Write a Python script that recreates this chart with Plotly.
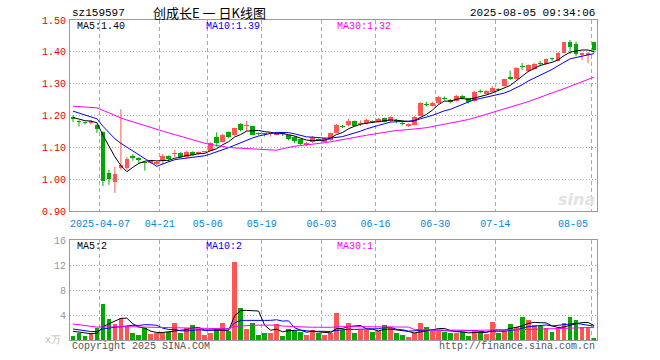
import plotly.graph_objects as go

# ---------------- data ----------------
dates = [
    "2025-03-28", "2025-03-31", "2025-04-01", "2025-04-02", "2025-04-03",
    "2025-04-07", "2025-04-08", "2025-04-09", "2025-04-10", "2025-04-11",
    "2025-04-14", "2025-04-15", "2025-04-16", "2025-04-17", "2025-04-18",
    "2025-04-21", "2025-04-22", "2025-04-23", "2025-04-24", "2025-04-25",
    "2025-04-28", "2025-04-29", "2025-04-30",
    "2025-05-06", "2025-05-07", "2025-05-08", "2025-05-09",
    "2025-05-12", "2025-05-13", "2025-05-14", "2025-05-15", "2025-05-16",
    "2025-05-19", "2025-05-20", "2025-05-21", "2025-05-22", "2025-05-23",
    "2025-05-26", "2025-05-27", "2025-05-28", "2025-05-29", "2025-05-30",
    "2025-06-03", "2025-06-04", "2025-06-05", "2025-06-06",
    "2025-06-09", "2025-06-10", "2025-06-11", "2025-06-12", "2025-06-13",
    "2025-06-16", "2025-06-17", "2025-06-18", "2025-06-19", "2025-06-20",
    "2025-06-23", "2025-06-24", "2025-06-25", "2025-06-26", "2025-06-27",
    "2025-06-30", "2025-07-01", "2025-07-02", "2025-07-03", "2025-07-04",
    "2025-07-07", "2025-07-08", "2025-07-09", "2025-07-10", "2025-07-11",
    "2025-07-14", "2025-07-15", "2025-07-16", "2025-07-17", "2025-07-18",
    "2025-07-21", "2025-07-22", "2025-07-23", "2025-07-24", "2025-07-25",
    "2025-07-28", "2025-07-29", "2025-07-30", "2025-07-31", "2025-08-01",
    "2025-08-04", "2025-08-05",
]

open_ = [
    1.196, 1.183, 1.177, 1.176, 1.170, 1.147, 1.020, 0.992, 1.034, 1.034,
    1.073, 1.066, 1.054, 1.050, 1.049, 1.060, 1.073, 1.078, 1.081, 1.071,
    1.085, 1.078, 1.085, 1.090, 1.131, 1.118, 1.147, 1.138, 1.173, 1.167,
    1.166, 1.145, 1.143, 1.142, 1.140, 1.144, 1.138, 1.133, 1.125, 1.106,
    1.117, 1.126, 1.118, 1.123, 1.146, 1.168, 1.170, 1.182, 1.174, 1.175,
    1.181, 1.180, 1.191, 1.183, 1.184, 1.176, 1.168, 1.171, 1.200, 1.237,
    1.230, 1.238, 1.255, 1.249, 1.246, 1.261, 1.254, 1.245, 1.276, 1.268,
    1.275, 1.283, 1.293, 1.322, 1.314, 1.357, 1.341, 1.346, 1.363, 1.362,
    1.378, 1.372, 1.397, 1.430, 1.425, 1.389, 1.390, 1.430,
]
high = [
    1.201, 1.185, 1.180, 1.186, 1.172, 1.150, 1.029, 1.039, 1.219, 1.069,
    1.079, 1.069, 1.055, 1.058, 1.057, 1.079, 1.075, 1.092, 1.085, 1.089,
    1.088, 1.087, 1.089, 1.116, 1.147, 1.142, 1.150, 1.162, 1.176, 1.183,
    1.168, 1.147, 1.144, 1.147, 1.148, 1.146, 1.140, 1.135, 1.127, 1.117,
    1.135, 1.128, 1.131, 1.146, 1.173, 1.170, 1.189, 1.184, 1.184, 1.190,
    1.184, 1.192, 1.193, 1.197, 1.189, 1.181, 1.175, 1.198, 1.242, 1.243,
    1.244, 1.262, 1.260, 1.252, 1.265, 1.265, 1.256, 1.277, 1.282, 1.280,
    1.292, 1.287, 1.316, 1.341, 1.352, 1.365, 1.361, 1.365, 1.371, 1.379,
    1.382, 1.399, 1.432, 1.437, 1.432, 1.398, 1.399, 1.432,
]
low = [
    1.180, 1.165, 1.172, 1.172, 1.145, 0.978, 0.982, 0.957, 1.029, 1.029,
    1.058, 1.048, 1.027, 1.048, 1.044, 1.044, 1.055, 1.069, 1.067, 1.065,
    1.075, 1.076, 1.083, 1.088, 1.102, 1.115, 1.128, 1.135, 1.150, 1.152,
    1.138, 1.137, 1.134, 1.134, 1.138, 1.136, 1.122, 1.113, 1.108, 1.104,
    1.114, 1.121, 1.116, 1.121, 1.144, 1.161, 1.166, 1.165, 1.167, 1.172,
    1.176, 1.178, 1.179, 1.180, 1.176, 1.169, 1.164, 1.169, 1.198, 1.228,
    1.228, 1.236, 1.248, 1.238, 1.243, 1.250, 1.238, 1.243, 1.270, 1.266,
    1.272, 1.276, 1.291, 1.311, 1.312, 1.343, 1.338, 1.344, 1.355, 1.359,
    1.372, 1.370, 1.395, 1.393, 1.387, 1.374, 1.364, 1.396,
]
close = [
    1.190, 1.181, 1.175, 1.183, 1.157, 0.995, 1.000, 1.016, 1.044, 1.062,
    1.065, 1.061, 1.050, 1.056, 1.055, 1.073, 1.063, 1.083, 1.071, 1.085,
    1.077, 1.085, 1.087, 1.114, 1.115, 1.140, 1.133, 1.160, 1.153, 1.169,
    1.140, 1.143, 1.141, 1.144, 1.146, 1.142, 1.125, 1.121, 1.111, 1.115,
    1.133, 1.124, 1.129, 1.144, 1.170, 1.165, 1.183, 1.168, 1.176, 1.186,
    1.179, 1.189, 1.181, 1.195, 1.182, 1.174, 1.173, 1.196, 1.240, 1.234,
    1.240, 1.259, 1.253, 1.241, 1.262, 1.254, 1.241, 1.275, 1.274, 1.278,
    1.285, 1.281, 1.314, 1.314, 1.350, 1.353, 1.359, 1.362, 1.361, 1.377,
    1.376, 1.397, 1.430, 1.414, 1.393, 1.395, 1.397, 1.405,
]
# volume, unit: 万 lots
volume = [
    0.70, 1.07, 0.70, 1.07, 2.00, 5.80, 3.40, 2.60, 3.50, 2.20,
    1.20, 0.85, 1.87, 0.90, 1.20, 1.20, 1.30, 2.80, 1.20, 1.87,
    2.45, 1.70, 0.75, 1.07, 1.70, 2.80, 1.40, 12.50, 5.20, 1.80,
    2.80, 0.85, 1.20, 1.20, 2.60, 0.70, 1.80, 1.50, 1.33, 0.85,
    1.65, 1.17, 0.85, 1.20, 4.30, 1.65, 2.80, 1.20, 1.65, 1.65,
    1.33, 1.45, 2.45, 1.87, 1.17, 0.85, 0.53, 1.17, 2.80, 2.13,
    1.50, 1.50, 1.33, 1.17, 1.17, 1.33, 0.70, 1.65, 1.33, 1.00,
    2.93, 1.17, 1.50, 2.60, 2.13, 3.73, 3.25, 2.45, 2.30, 1.97,
    1.33, 1.97, 2.80, 3.73, 3.25, 2.13, 2.13, 0.37,
]
# sessions before the visible window (only used to warm up the moving averages)
prior_close = [
    1.205, 1.212, 1.220, 1.218, 1.225, 1.250, 1.262, 1.268, 1.255, 1.248,
    1.240, 1.236, 1.242, 1.230, 1.222, 1.228, 1.238, 1.245, 1.250, 1.246,
    1.240, 1.236, 1.232, 1.228, 1.230, 1.210, 1.198, 1.188, 1.184,
]
prior_volume = [
    5.5, 4.8, 5.2, 4.6, 4.9, 2.8, 2.2, 2.5, 1.9, 2.6,
    2.1, 2.4, 2.0, 2.7, 2.3, 2.2, 1.8, 2.5, 2.4, 2.1,
    2.3, 2.0, 2.6, 1.9, 1.8, 1.9, 1.5, 1.4, 1.5,
]
tick_dates = ["2025-04-07", "2025-04-21", "2025-05-06", "2025-05-19", "2025-06-03",
              "2025-06-16", "2025-06-30", "2025-07-14", "2025-08-05"]
tick_labels = ["2025-04-07", "04-21", "05-06", "05-19", "06-03",
               "06-16", "06-30", "07-14", "08-05"]
price_ticks = [0.90, 1.00, 1.10, 1.20, 1.30, 1.40, 1.50]
volume_ticks = [4, 8, 12, 16]
ma_periods = [5, 10, 30]

symbol = "sz159597"
title = "创成长E 一 日K线图"
timestamp = "2025-08-05 09:34:06"

# ---------------- helpers ----------------
RED = "#ff5555"
GREEN = "#00a800"
MA_COLORS = {5: "#000000", 10: "#0000ff", 30: "#ff00ff"}
MONO = "Liberation Mono, DejaVu Sans Mono, monospace"


def moving_average(prior, values, n):
    full = list(prior) + list(values)
    off = len(prior)
    return [sum(full[off + i - n + 1: off + i + 1]) / n for i in range(len(values))]


n = len(dates)
xs = list(range(n))
up = [c >= o for o, c in zip(open_, close)]

fig = go.Figure()

# wicks
for flag, col in ((True, RED), (False, GREEN)):
    wx, wy = [], []
    for i in xs:
        if up[i] == flag:
            wx += [i, i, None]
            wy += [low[i], high[i], None]
    fig.add_trace(go.Scatter(x=wx, y=wy, mode="lines", line=dict(color=col, width=1),
                             hoverinfo="skip", showlegend=False, xaxis="x", yaxis="y"))

# bodies
body_base = [min(o, c) for o, c in zip(open_, close)]
body_h = [max(abs(c - o), 0.0032) for o, c in zip(open_, close)]
colors = [RED if u else GREEN for u in up]
fig.add_trace(go.Bar(x=xs, y=body_h, base=body_base, width=0.8,
                     marker=dict(color=colors, line=dict(width=0)),
                     showlegend=False, xaxis="x", yaxis="y"))

# price moving averages
price_ma = {}
for p in ma_periods:
    price_ma[p] = moving_average(prior_close, close, p)
    fig.add_trace(go.Scatter(x=xs, y=price_ma[p], mode="lines",
                             line=dict(color=MA_COLORS[p], width=1),
                             showlegend=False, xaxis="x", yaxis="y"))

# volume bars
fig.add_trace(go.Bar(x=xs, y=volume, width=0.8,
                     marker=dict(color=colors, line=dict(width=0)),
                     showlegend=False, xaxis="x2", yaxis="y2"))
vol_ma = {}
for p in ma_periods:
    vol_ma[p] = moving_average(prior_volume, volume, p)
    fig.add_trace(go.Scatter(x=xs, y=vol_ma[p], mode="lines",
                             line=dict(color=MA_COLORS[p], width=1),
                             showlegend=False, xaxis="x2", yaxis="y2"))

# ---------------- layout ----------------
tick_pos = [dates.index(d) - 0.5 for d in tick_dates]
tick_text = list(tick_labels)
tick_text[-1] = tick_text[-1] + "\u00a0" * 6

W, H = 660, 360
PL, PR, PT, PB = 70, 597, 20, 340          # plot area in window pixels
PW, PH = PR - PL, PB - PT


def px_x(px):
    return (px - PL) / PW


def px_y(py):
    return (PB - py) / PH


grid_common = dict(showline=True, mirror=True, linecolor="#999999", linewidth=1,
                   zeroline=False, fixedrange=True)

fig.update_layout(
    width=W, height=H,
    margin=dict(l=PL, r=W - PR, t=PT, b=H - PB, autoexpand=False),
    paper_bgcolor="white", plot_bgcolor="white",
    bargap=0, showlegend=False, hovermode=False,
    font=dict(family=MONO, size=10, color="#333"),
    xaxis=dict(domain=[0, 1], anchor="y", range=[-0.5, n - 0.5],
               tickmode="array", tickvals=tick_pos, ticktext=tick_text,
               tickfont=dict(family=MONO, size=10, color="#0088dd"),
               ticks="", ticklabelstandoff=3,
               showgrid=True, gridcolor="#aaaaaa", griddash="4px,3px", gridwidth=1,
               **grid_common),
    yaxis=dict(domain=[px_y(211), 1], anchor="x", range=[0.90, 1.50],
               tickmode="array", tickvals=price_ticks,
               ticktext=[f"{v:.2f}" for v in price_ticks],
               tickfont=dict(family=MONO, size=10, color="#ee0000"),
               ticks="", ticklabelstandoff=1,
               showgrid=True, gridcolor="#aaaaaa", griddash="1px,2px", gridwidth=1,
               **grid_common),
    xaxis2=dict(domain=[0, 1], anchor="y2", range=[-0.5, n - 0.5], matches="x",
                tickmode="array", tickvals=tick_pos, showticklabels=False, ticks="",
                showgrid=True, gridcolor="#aaaaaa", griddash="4px,3px", gridwidth=1,
                **grid_common),
    yaxis2=dict(domain=[0, px_y(240)], anchor="x2", range=[0, 16],
                tickmode="array", tickvals=volume_ticks,
                ticktext=[str(v) for v in volume_ticks],
                tickfont=dict(family=MONO, size=10, color="#999999"),
                ticks="", ticklabelstandoff=1,
                showgrid=True, gridcolor="#aaaaaa", griddash="1px,2px", gridwidth=1,
                **grid_common),
)


def note(text, px, py, color="#000", size=10, xanchor="left", family=MONO, **kw):
    fig.add_annotation(text=text, x=px_x(px), y=px_y(py), xref="paper", yref="paper",
                       xanchor=xanchor, yanchor="middle", showarrow=False,
                       font=dict(family=family, size=size, color=color), **kw)


note(symbol, 70, 13, "#000", 11)
note(title.replace(" ", "\u00a0"), 209, 13, "#000", 13, xanchor="center",
     family="Noto Sans CJK SC")
note(timestamp, 597, 13, "#000", 11, xanchor="right")

leg_x = {5: 75, 10: 204, 30: 335}
for p in ma_periods:
    note(f"MA{p}:{price_ma[p][-1]:.2f}", leg_x[p], 27, MA_COLORS[p])
    note(f"MA{p}:{int(vol_ma[p][-1])}", leg_x[p], 246, MA_COLORS[p])

note("x万", 63, 340, "#bbbbbb", 10, xanchor="right")
note("Copyright 2025 SINA.COM", 70, 346, "#555555", 10)
note("http://finance.sina.com.cn", 597, 346, "#555555", 10, xanchor="right")
note("<b><i>sina</i></b>", 597, 199, "#e2e2e2", 16, xanchor="right", family="DejaVu Sans")

# remove the browser's default 8px page margin so the figure fills the window
fig.write_html("out.html", config={"displayModeBar": False, "staticPlot": True},
               post_script="document.body.style.margin='0px';")
